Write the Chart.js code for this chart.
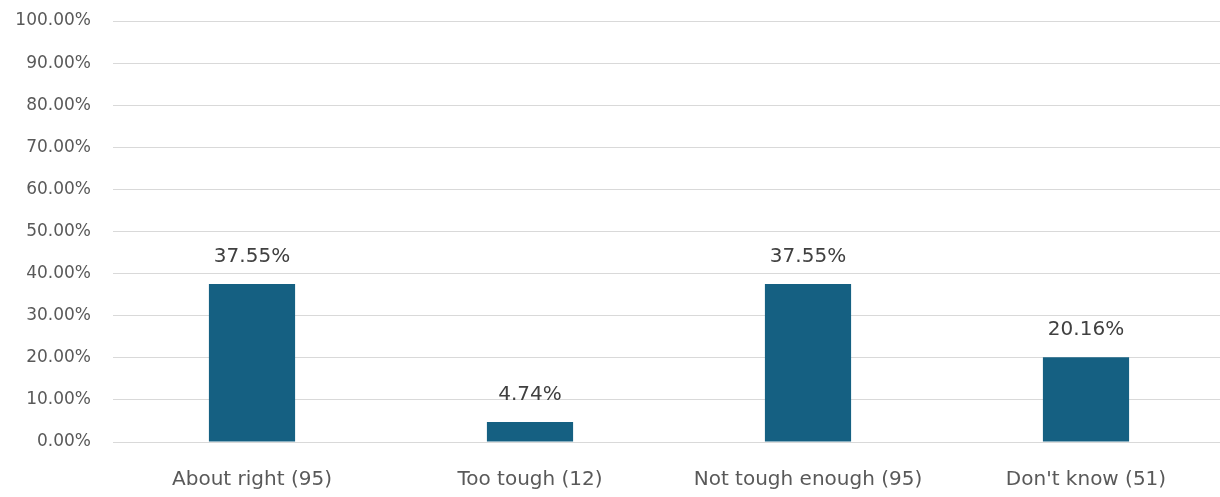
<!DOCTYPE html>
<html>
<head>
<meta charset="utf-8">
<script src="https://cdn.jsdelivr.net/npm/chart.js@4"></script>
<style>
  html, body { margin: 0; padding: 0; background: #fff; overflow: hidden; }
  #wrap { width: 1225px; height: 497px; }
</style>
</head>
<body>
<div id="wrap"><canvas id="answers_Chart"></canvas></div>
<script>
const answer_labels = ['About right (95)', 'Too tough (12)', 'Not tough enough (95)', "Don't know (51)"];
const answer_pct = [37.55, 4.74, 37.55, 20.16];

const FONT = '"DejaVu Sans", sans-serif';

// writes the percentage above each bar
const valueLabels = {
  id: 'valueLabels',
  afterDatasetsDraw(chart) {
    const ctx = chart.ctx;
    const meta = chart.getDatasetMeta(0);
    ctx.save();
    ctx.font = '20px ' + FONT;
    ctx.fillStyle = '#404040';
    ctx.textAlign = 'center';
    ctx.textBaseline = 'middle';
    meta.data.forEach(function(bar, i) {
      ctx.fillText(answer_pct[i].toFixed(2) + '%', bar.x, bar.y - 27);
    });
    ctx.restore();
  }
};

const config_bar = {
  type: 'bar',
  data: {
    labels: answer_labels,
    datasets: [{
      label: 'Answers',
      backgroundColor: '#156082',
      data: answer_pct,
      categoryPercentage: 1,
      barPercentage: 0.31
    }]
  },
  options: {
    responsive: true,
    maintainAspectRatio: false,
    animation: false,
    layout: { padding: { top: 21, right: 0, bottom: 0, left: 0 } },
    plugins: {
      legend: { display: false },
      tooltip: { enabled: false }
    },
    scales: {
      x: {
        grid: { display: false, drawTicks: false },
        border: { display: false },
        ticks: {
          color: '#595959',
          font: { family: FONT, size: 20 },
          padding: 26,
          maxRotation: 0
        },
        afterFit: function(scale) { scale.height = 55; }
      },
      y: {
        min: 0,
        max: 100,
        grid: { color: '#d9d9d9', drawTicks: false },
        border: { display: false },
        ticks: {
          stepSize: 10,
          color: '#595959',
          font: { family: FONT, size: 17 },
          padding: 22,
          callback: function(v) { return v.toFixed(2) + '%'; }
        },
        afterFit: function(scale) {
          scale.width = 113;
          scale.paddingTop = 0;
          scale.paddingBottom = 0;
        }
      }
    }
  },
  plugins: [valueLabels]
};

let myChart = new Chart(
  document.getElementById('answers_Chart'),
  config_bar
);
</script>
</body>
</html>
